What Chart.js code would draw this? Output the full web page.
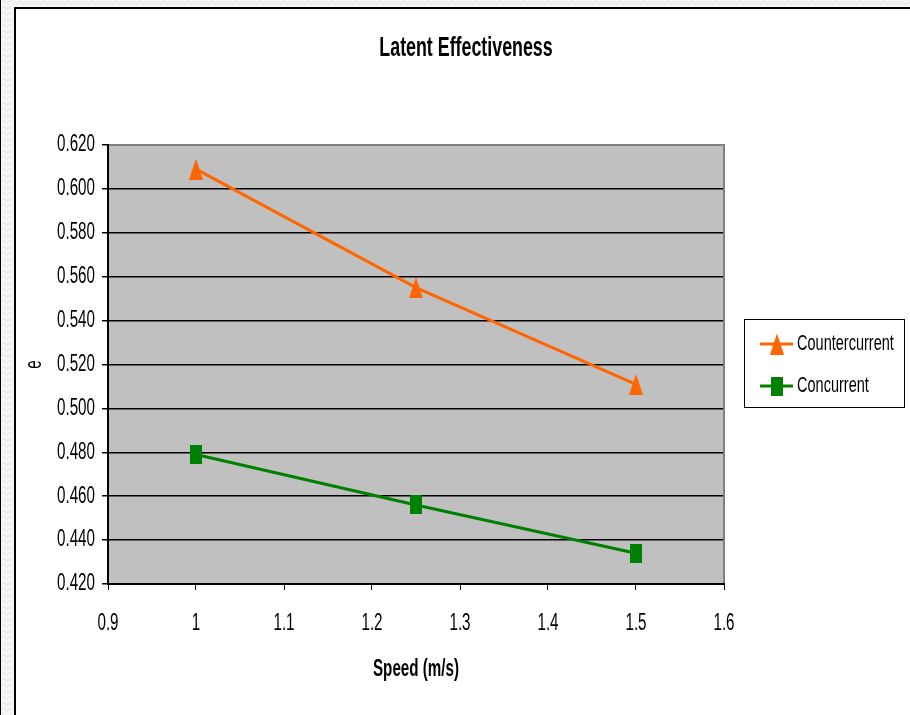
<!DOCTYPE html>
<html>
<head>
<meta charset="utf-8">
<script src="https://cdn.jsdelivr.net/npm/chart.js@4/dist/chart.umd.min.js"></script>
<style>
html,body{margin:0;padding:0;background:#fff;}
#c{display:block;}
</style>
</head>
<body>
<canvas id="c" width="910" height="715"></canvas>
<script>
const speeds = [1, 1.25, 1.5];
const countercurrent = [0.609, 0.555, 0.511];
const concurrent = [0.479, 0.456, 0.434];
const seriesNames = ['Countercurrent', 'Concurrent'];
const titleText = 'Latent Effectiveness';
const xTitle = 'Speed (m/s)';
const yTitle = 'e';

const FONT = "'Liberation Sans', Arial, sans-serif";
const ORANGE = '#FF6600';
const GREEN = '#008000';

// Narrow (condensed) text rendering: squeeze glyphs horizontally around their anchor
const canvas = document.getElementById('c');
const ctx0 = canvas.getContext('2d');
const SX = 0.66;
const origFill = ctx0.fillText.bind(ctx0);
ctx0.fillText = function(text, x, y, maxWidth){
  this.save();
  this.translate(x, y);
  this.scale(SX, 1);
  if (maxWidth !== undefined && maxWidth !== null) origFill(text, 0, 0, maxWidth / SX);
  else origFill(text, 0, 0);
  this.restore();
};

function makeTriangle(color){
  const c = document.createElement('canvas');
  c.width = 14; c.height = 21;
  const g = c.getContext('2d');
  g.fillStyle = color;
  g.beginPath();
  g.moveTo(7, 0); g.lineTo(14, 21); g.lineTo(0, 21); g.closePath();
  g.fill();
  return c;
}
function makeRect(color){
  const c = document.createElement('canvas');
  c.width = 12; c.height = 19;
  const g = c.getContext('2d');
  g.fillStyle = color;
  g.fillRect(0, 0, 12, 19);
  return c;
}
const triImg = makeTriangle(ORANGE);
const rectImg = makeRect(GREEN);

const decorPlugin = {
  id: 'decor',
  beforeDraw(chart){
    const ctx = chart.ctx;
    const a = chart.chartArea;
    ctx.save();
    ctx.fillStyle = '#fff';
    ctx.fillRect(0, 0, chart.width, chart.height);
    // outer hatched margin
    ctx.fillStyle = '#f6f6f6';
    ctx.fillRect(0, 0, 14, chart.height);
    ctx.fillRect(0, 0, chart.width, 7);
    ctx.strokeStyle = '#e2e2e2';
    ctx.lineWidth = 1;
    ctx.beginPath();
    for (let y = 0; y < chart.height; y += 6) {
      ctx.moveTo(2, y); ctx.lineTo(7, y + 3); ctx.lineTo(12, y);
    }
    for (let x = 14; x < chart.width; x += 6) {
      ctx.moveTo(x, 1); ctx.lineTo(x + 3, 5); ctx.lineTo(x + 6, 1);
    }
    ctx.stroke();
    ctx.strokeStyle = '#000';
    ctx.lineWidth = 1;
    ctx.beginPath();
    ctx.moveTo(0.5, 0); ctx.lineTo(0.5, chart.height);
    ctx.stroke();
    ctx.lineWidth = 2;
    ctx.beginPath();
    ctx.moveTo(15, chart.height); ctx.lineTo(15, 8); ctx.lineTo(chart.width, 8);
    ctx.stroke();
    // plot background
    ctx.fillStyle = '#C0C0C0';
    ctx.fillRect(a.left, a.top, a.right - a.left, a.bottom - a.top);
    // title
    ctx.fillStyle = '#000';
    ctx.font = 'bold 27px ' + FONT;
    ctx.textAlign = 'center';
    ctx.textBaseline = 'middle';
    ctx.fillText(titleText, 466, 49);
    ctx.restore();
  },
  afterDraw(chart){
    const ctx = chart.ctx;
    const a = chart.chartArea;
    ctx.save();
    // plot border top/right
    ctx.strokeStyle = '#808080';
    ctx.lineWidth = 2;
    ctx.beginPath();
    ctx.moveTo(a.left + 1, a.top); ctx.lineTo(a.right, a.top); ctx.lineTo(a.right, a.bottom - 1);
    ctx.stroke();
    // legend
    const lx = 744, ly = 319, lw = 160, lh = 88;
    ctx.fillStyle = '#fff';
    ctx.fillRect(lx, ly, lw, lh);
    ctx.strokeStyle = '#000';
    ctx.lineWidth = 1;
    ctx.strokeRect(lx + 0.5, ly + 0.5, lw, lh);
    const items = chart.data.datasets;
    const ys = [344, 386];
    items.forEach((ds, i) => {
      const y = ys[i];
      ctx.strokeStyle = ds.borderColor;
      ctx.lineWidth = 3;
      ctx.beginPath();
      ctx.moveTo(760, y); ctx.lineTo(793, y);
      ctx.stroke();
      const img = ds.pointStyle;
      ctx.drawImage(img, 777 - img.width / 2, y - img.height / 2);
      ctx.fillStyle = '#000';
      ctx.font = '22px ' + FONT;
      ctx.textAlign = 'left';
      ctx.textBaseline = 'middle';
      ctx.fillText(ds.label, 797, y);
    });
    ctx.restore();
  }
};

const chart = new Chart(canvas, {
  type: 'scatter',
  data: {
    datasets: [
      {
        label: seriesNames[0],
        data: speeds.map((x, i) => ({x: x, y: countercurrent[i]})),
        showLine: true,
        borderColor: ORANGE,
        backgroundColor: ORANGE,
        borderWidth: 3,
        pointStyle: triImg,
        pointRadius: 8,
        order: 2
      },
      {
        label: seriesNames[1],
        data: speeds.map((x, i) => ({x: x, y: concurrent[i]})),
        showLine: true,
        borderColor: GREEN,
        backgroundColor: GREEN,
        borderWidth: 3,
        pointStyle: rectImg,
        pointRadius: 8,
        order: 1
      }
    ]
  },
  options: {
    responsive: false,
    animation: false,
    devicePixelRatio: 1,
    layout: { padding: { left: 0, right: 186, top: 145, bottom: 0 } },
    plugins: {
      legend: { display: false },
      title: { display: false },
      tooltip: { enabled: false }
    },
    scales: {
      x: {
        type: 'linear',
        min: 0.9, max: 1.6,
        afterFit(s){ s.height = 131; },
        ticks: {
          stepSize: 0.1,
          color: '#000',
          padding: 20,
          maxRotation: 0,
          autoSkip: false,
          font: { family: FONT, size: 23 },
          callback: v => String(Number(v.toFixed(1)))
        },
        grid: { drawOnChartArea: false, drawTicks: true, tickLength: 6, tickColor: '#000', color: '#000' },
        border: { display: true, color: '#000', width: 2 },
        title: { display: true, text: xTitle, color: '#000', font: { family: FONT, size: 23, weight: 'bold' }, padding: { top: 0, bottom: 32 } }
      },
      y: {
        min: 0.42, max: 0.62,
        afterFit(s){ s.width = 108; },
        ticks: {
          stepSize: 0.02,
          color: '#000',
          padding: 7,
          autoSkip: false,
          font: { family: FONT, size: 23 },
          callback: v => v.toFixed(3)
        },
        grid: { drawOnChartArea: true, drawTicks: true, tickLength: 6, tickColor: '#000', color: '#000', lineWidth: 1.5 },
        border: { display: true, color: '#000', width: 2 },
        title: { display: true, text: yTitle, color: '#000', font: { family: FONT, size: 23 }, padding: { top: 21, bottom: 0 } }
      }
    }
  },
  plugins: [decorPlugin]
});
</script>
</body>
</html>
